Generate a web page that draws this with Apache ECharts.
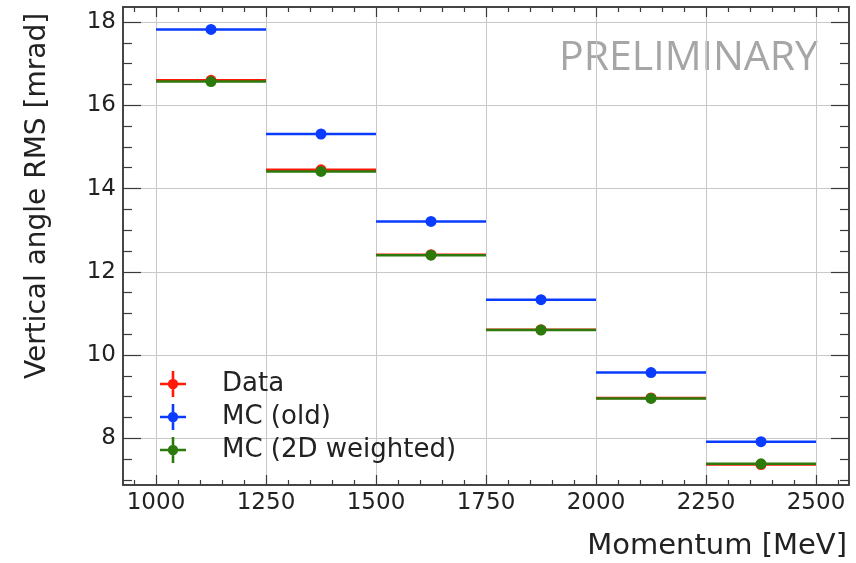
<!DOCTYPE html>
<html>
<head>
<meta charset="utf-8">
<script src="https://cdn.jsdelivr.net/npm/echarts@6/dist/echarts.min.js"></script>
<style>
html,body{margin:0;padding:0;background:#fff;}
#chart{width:856px;height:563px;}
</style>
</head>
<body>
<div id="chart"></div>
<script>
// bins in momentum (centre, half width)
var binCenters=[1125,1375,1625,1875,2125,2375];
var binHalfWidth=125;
// RMS values [mrad]
var dataVals=[16.60,14.45,12.41,10.61,8.97,7.37];
var mcOldVals=[17.82,15.31,13.21,11.33,9.58,7.92];
var mc2dVals=[16.57,14.41,12.40,10.60,8.96,7.39];
// axis ticks
var xTicks=[1000,1250,1500,1750,2000,2250,2500];
var yTicks=[8,10,12,14,16,18];

var font='DejaVu Sans';
var boxColor='#3a3a3a';

//minor ticks
function minorTicks(major,step,lo,hi){
	var arr=[];
	var start=Math.ceil(lo/step)*step;
	for(var v=start;v<=hi+1e-9;v+=step){
		v=Math.round(v*1000)/1000;
		if(major.indexOf(v)<0) arr.push(v);
	}
	return arr;
}
var xMin=925,xMax=2575,yMin=6.88,yMax=18.36;
var xMinor=minorTicks(xTicks,50,xMin,xMax);
var yMinor=minorTicks(yTicks,0.5,yMin,yMax);

function makeData(vals){
	var out=[];
	for(var i=0;i<vals.length;i++){
		out.push([binCenters[i],vals[i],binHalfWidth]);
	}
	return out;
}

function renderErr(params,api){
	var x=api.value(0),y=api.value(1),hw=api.value(2);
	var p0=api.coord([x-hw,y]);
	var p1=api.coord([x+hw,y]);
	var c=api.coord([x,y]);
	var color=api.visual('color');
	return {
		type:'group',
		children:[
			{type:'line',shape:{x1:p0[0],y1:p0[1],x2:p1[0],y2:p1[1]},style:{stroke:color,lineWidth:2.5}},
			{type:'circle',shape:{cx:c[0],cy:c[1],r:5.5},style:{fill:color}}
		]
	};
}

function plainNum(v){ return String(v); }

function xAxisDef(pos,ticks,len,withLabel){
	return {
		type:'value',position:pos,min:xMin,max:xMax,
		axisLine:{show:true,onZero:false,lineStyle:{color:boxColor,width:1.5}},
		axisTick:{show:true,inside:true,length:len,customValues:ticks,lineStyle:{color:boxColor,width:1.2}},
		axisLabel:{show:withLabel,customValues:ticks,formatter:plainNum,margin:7,fontSize:23,fontFamily:font,color:'#222'},
		splitLine:{show:withLabel,lineStyle:{color:'#c8c8c8',width:1}}
	};
}
function yAxisDef(pos,ticks,len,withLabel){
	return {
		type:'value',position:pos,min:yMin,max:yMax,
		axisLine:{show:true,onZero:false,lineStyle:{color:boxColor,width:1.5}},
		axisTick:{show:true,inside:true,length:len,customValues:ticks,lineStyle:{color:boxColor,width:1.2}},
		axisLabel:{show:withLabel,customValues:ticks,formatter:plainNum,margin:7,fontSize:23,fontFamily:font,color:'#222'},
		splitLine:{show:withLabel,lineStyle:{color:'#c8c8c8',width:1}}
	};
}

var crossIcon='path://M0 9H20V11H0Z M9 0H11V20H9Z M10 6A4 4 0 1 1 9.99 6Z';

var option={
	animation:false,
	backgroundColor:'#fff',
	grid:{left:123,right:7,top:7,bottom:78},
	xAxis:[
		xAxisDef('bottom',xTicks,10,true),
		xAxisDef('bottom',xMinor,5,false),
		xAxisDef('top',xTicks,10,false),
		xAxisDef('top',xMinor,5,false)
	],
	yAxis:[
		yAxisDef('left',yTicks,18,true),
		yAxisDef('left',yMinor,9,false),
		yAxisDef('right',yTicks,18,false),
		yAxisDef('right',yMinor,9,false)
	],
	legend:{
		orient:'vertical',
		left:155,top:366,
		itemWidth:88,itemHeight:26,itemGap:7,
		textStyle:{fontSize:26,fontFamily:font,color:'#222'},
		data:[
			{name:'Data',icon:crossIcon},
			{name:'MC (old)',icon:crossIcon},
			{name:'MC (2D weighted)',icon:crossIcon}
		]
	},
	graphic:[
		{type:'text',x:818,y:58,style:{text:'PRELIMINARY',fontFamily:'Open Sans',fontSize:41,fill:'#a6a6a6',textAlign:'right',textVerticalAlign:'middle'}},
		{type:'text',x:847,y:546,style:{text:'Momentum [MeV]',fontFamily:font,fontSize:29,fill:'#222',textAlign:'right',textVerticalAlign:'middle'}},
		{type:'text',x:38,y:196,rotation:Math.PI/2,style:{text:'Vertical angle RMS [mrad]',fontFamily:font,fontSize:28,fill:'#222',textAlign:'center',textVerticalAlign:'middle'}}
	],
	series:[
		{name:'Data',type:'custom',renderItem:renderErr,itemStyle:{color:'#ff1a0a'},data:makeData(dataVals),z:3},
		{name:'MC (old)',type:'custom',renderItem:renderErr,itemStyle:{color:'#0a3cff'},data:makeData(mcOldVals),z:4},
		{name:'MC (2D weighted)',type:'custom',renderItem:renderErr,itemStyle:{color:'#2b7a0b'},data:makeData(mc2dVals),z:5}
	]
};

var myChart=echarts.init(document.getElementById('chart'));
myChart.setOption(option);
</script>
</body>
</html>
